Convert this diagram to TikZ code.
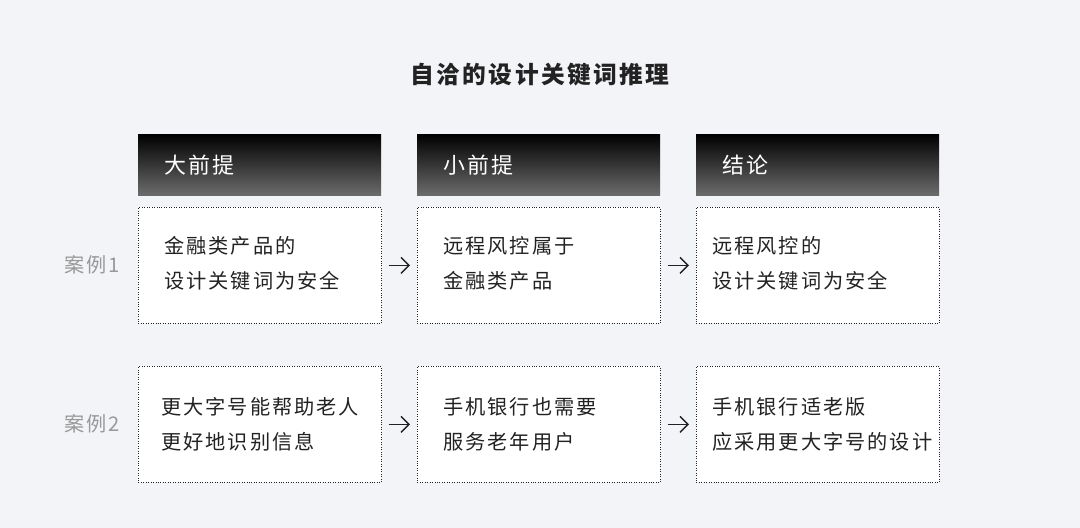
\documentclass[tikz,border=0pt]{standalone}
\usepackage{fontspec}
\setmainfont{Noto Sans CJK SC}[LetterSpace=10]
\usetikzlibrary{arrows.meta}
\definecolor{bgcol}{HTML}{F3F4F8}
\definecolor{inkcol}{HTML}{222222}
\tikzset{
  casebox/.style={draw=inkcol, densely dotted, fill=white, minimum width=4.86cm, minimum height=2.32cm, anchor=north west},
  headbox/.style={minimum width=4.86cm, minimum height=1.22cm, anchor=north west},
  boxtext/.style={anchor=west, align=left, text=inkcol, font=\fontsize{11.5}{20}\selectfont},
  headtext/.style={anchor=west, text=white, font=\fontsize{12.5}{15}\selectfont},
  caselabel/.style={text=black!40, font=\fontsize{11.5}{15}\selectfont},
  flow/.style={-{Straight Barb[length=1.6mm,width=3.2mm]}, thick, inkcol, shorten <=0.14cm, shorten >=0.14cm}
}
\begin{document}
\begin{tikzpicture}[x=0.02cm,y=-0.02cm]
    %% Background
    \fill[bgcol] (0,0) rectangle (1080,528);
    \useasboundingbox (0,0) rectangle (1080,528);

    %% Title
    \node[text=inkcol, font=\fontsize{13.5}{16}\bfseries\selectfont] (title) at (540,75) {自洽的设计关键词推理};

    %% Headers
    \foreach \x/\name/\txt in {138/h1/大前提, 417/h2/小前提, 696/h3/结论}
    {
    \shade[top color=black, bottom color=black!58] (\x,134) rectangle (\x+243,195);
    \node[headbox] (\name) at (\x,134) {};
    \node[headtext] at (\x+20,165) {\txt};
    }

    %% Cases
    \node[caselabel] (l1) at (92,265) {案例1};
    \node[caselabel] (l2) at (92,424) {案例2};

    \node[casebox] (a1) at (138,207) {};
    \node[casebox] (b1) at (417,207) {};
    \node[casebox] (c1) at (696,207) {};
    \node[casebox] (a2) at (138,366) {};
    \node[casebox] (b2) at (417,366) {};
    \node[casebox] (c2) at (696,366) {};

    \node[boxtext] (ta1) at (158,263) {金融类产品的\\设计关键词为安全};
    \node[boxtext] (tb1) at (437,263) {远程风控属于\\金融类产品};
    \node[boxtext] (tc1) at (706,263) {远程风控的\\设计关键词为安全};
    \node[boxtext] (ta2) at (155,424) {更大字号能帮助老人\\更好地识别信息};
    \node[boxtext] (tb2) at (437,424) {手机银行也需要\\服务老年用户};
    \node[boxtext] (tc2) at (706,424) {手机银行适老版\\应采用更大字号的设计};

    %% Arrows
    \draw[flow] (a1.east) -- (b1.west);
    \draw[flow] (b1.east) -- (c1.west);
    \draw[flow] (a2.east) -- (b2.west);
    \draw[flow] (b2.east) -- (c2.west);
\end{tikzpicture}
\end{document}
